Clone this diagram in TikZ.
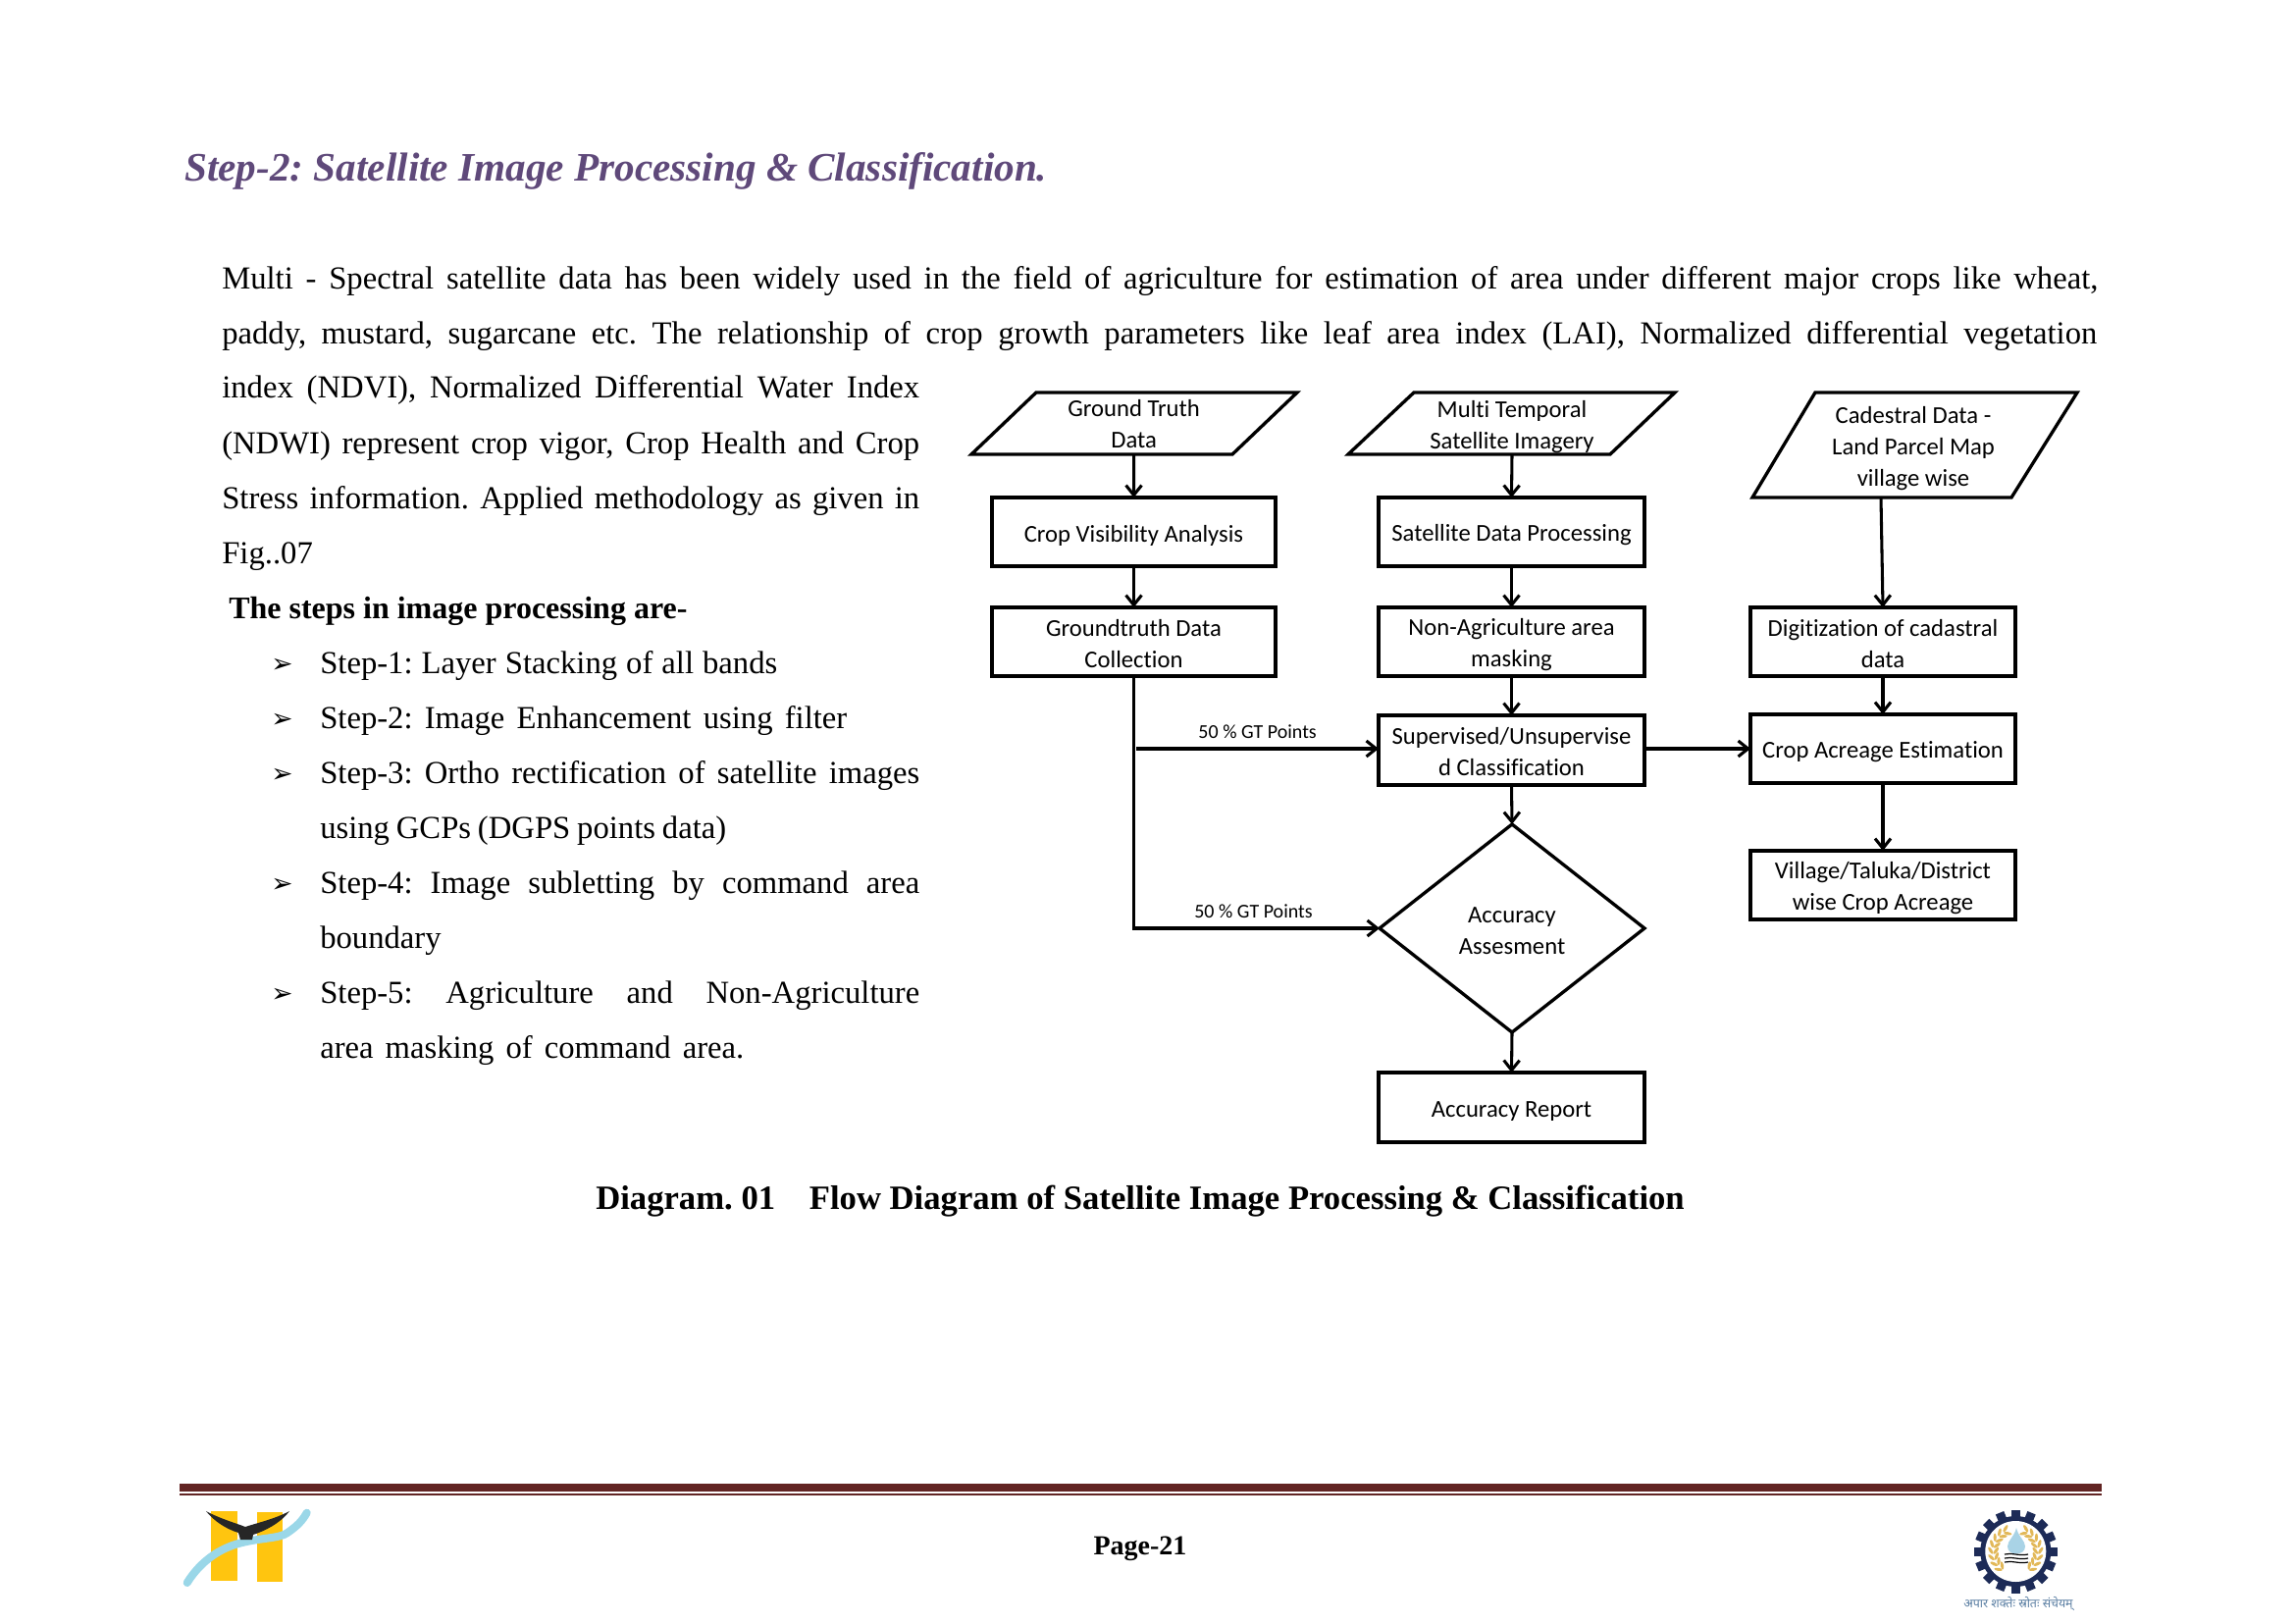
\documentclass[tikz,border=0pt]{standalone}
\usepackage{fontspec}
\usetikzlibrary{arrows.meta,shapes.geometric}
\setmainfont{Liberation Serif}
\frenchspacing
\newfontfamily\calfont[Ligatures=NoCommon]{Carlito}
\newfontfamily\dvfont{DejaVu Sans}
\newfontfamily\devafont[Script=Devanagari]{Noto Sans}
\definecolor{titlepurple}{HTML}{5F497A}
\definecolor{rulered}{HTML}{622423}
\definecolor{gearblue}{HTML}{1D2B57}
\definecolor{gold}{HTML}{E2B858}
\definecolor{swoosh}{HTML}{9AD7E8}
\definecolor{hyellow}{HTML}{FFC50F}
\definecolor{dropblue}{HTML}{A9D3E6}
\definecolor{mottoblue}{HTML}{5B7FA3}
\tikzset{
  x=.75pt,y=-.75pt,
  flowbox/.style={draw,line width=2.5pt,outer sep=0pt,inner sep=0pt,align=center,font=\calfont\fontsize{18.5}{24}\selectfont},
  flowtext/.style={align=center,inner sep=0pt,font=\calfont\fontsize{18.5}{24}\selectfont},
  para/.style={draw,line width=2.5pt,line join=miter},
  smalllab/.style={inner sep=0pt,font=\calfont\fontsize{15}{18}\selectfont},
  conn/.style={line width=2.3pt,-{Straight Barb[length=7.5pt,width=12pt,line width=2.3pt]}},
  body/.style={anchor=base west,inner sep=0pt,font=\fontsize{24.5}{30}\selectfont},
  bul/.style={anchor=base west,inner sep=0pt,font=\dvfont\fontsize{20}{24}\selectfont},
}
\def\rl{18pt}
\newcommand\flbox[6]{%
  \pgfmathsetmacro\bw{(#4-#2)*.75}\pgfmathsetmacro\bh{(#5-#3)*.75}%
  \node[flowbox,minimum width=\bw pt,minimum height=\bh pt] (#1) at ({(#2+#4)/2},{(#3+#5)/2}) {\rule{0pt}{\rl}#6};}
\newcommand\jl[5]{% name x baseline width text
  \pgfmathsetmacro\jw{#4*.75}%
  \node[body] (#1) at (#2,#3) {\makebox[\jw pt][s]{#5}};}
\begin{document}
\begin{tikzpicture}
\useasboundingbox (0,0) rectangle (2339,1655);
\fill[white] (0,0) rectangle (2339,1655);
% heading
\node[anchor=base west,inner sep=0pt,text=titlepurple,font=\bfseries\itshape\fontsize{30.9}{36}\selectfont] (title) at (188,185)
  {Step-2: Satellite Image Processing \& Classification.};
% body
\jl{l1}{226}{295}{1912}{Multi - Spectral satellite data has been widely used in the field of agriculture for estimation of area under different major crops like wheat,}
\jl{l2}{226}{351}{1911}{paddy, mustard, sugarcane etc. The relationship of crop growth parameters like leaf area index (LAI), Normalized differential vegetation}
\jl{l3}{226}{406}{711}{index (NDVI), Normalized Differential Water Index}
\jl{l4}{226}{462}{711}{(NDWI) represent crop vigor, Crop Health and Crop}
\jl{l5}{226}{518}{711}{Stress information. Applied methodology as given in}
\node[body] (l6) at (226,574) {Fig..07};
\node[body,font=\bfseries\fontsize{24}{30}\selectfont] (l7) at (233,630) {The steps in image processing are-};
\jl{s1}{326}{686}{466}{Step-1: Layer Stacking of all bands}
\jl{s2}{326}{742}{537}{Step-2: Image Enhancement using filter}
\jl{s3}{326}{798}{611}{Step-3: Ortho rectification of satellite images}
\jl{s3b}{326}{854}{414}{using GCPs (DGPS points data)}
\jl{s4}{326}{910}{611}{Step-4: Image subletting by command area}
\node[body] (s4b) at (326,966) {boundary};
\jl{s5}{326}{1022}{611}{Step-5: Agriculture and Non-Agriculture}
\jl{s5b}{326}{1078}{432}{area masking of command area.}
\node[bul] (b1) at (276,685) {➢};
\node[bul] (b2) at (276,741) {➢};
\node[bul] (b3) at (276,797) {➢};
\node[bul] (b4) at (276,909) {➢};
\node[bul] (b5) at (276,1021) {➢};
% flow: parallelograms
\draw[para] (1056,400) -- (1322,400) -- (1256,463) -- (990,463) -- cycle;
\draw[para] (1441,400) -- (1707,400) -- (1641,463) -- (1374,463) -- cycle;
\draw[para] (1850,400) -- (2117,400) -- (2050,507) -- (1786,507) -- cycle;
\coordinate (p1b) at (1155.6,463);
\coordinate (p2b) at (1541,463);
\coordinate (p3b) at (1917,507);
\node[flowtext] (p1t) at (1155.6,432) {Ground Truth\\Data};
\node[flowtext] (p2t) at (1541,435) {Multi Temporal\\Satellite Imagery};
\node[flowtext] (p3t) at (1950,457) {Cadestral Data -\\Land Parcel Map\\village wise};
% boxes
\flbox{crop}{1011}{507}{1300}{577}{Crop Visibility Analysis}
\flbox{sat}{1405}{507}{1676}{577}{Satellite Data Processing}
\flbox{nonag}{1405}{619}{1676}{689}{Non-Agriculture area\\masking}
\flbox{rep}{1405}{1093}{1676}{1164}{Accuracy Report}
\flbox{acr}{1784}{728}{2054}{798}{Crop Acreage Estimation}
\flbox{vil}{1784}{867}{2054}{937}{Village/Taluka/District\\wise Crop Acreage}
\def\rl{15.5pt}
\flbox{gt}{1011}{619}{1300}{689}{Groundtruth Data\\Collection}
\flbox{dig}{1784}{619}{2054}{689}{Digitization of cadastral\\data}
\def\rl{14.5pt}
\flbox{sup}{1405}{729}{1676}{800}{Supervised/Unsupervise\\d Classification}
\node[flowbox,diamond,aspect=1.27,minimum width=202.5pt,minimum height=159pt] (acc) at (1541,946) {\rule{0pt}{16pt}Accuracy\\Assesment};
% connectors
\draw[conn] (p1b) -- (crop.north);
\draw[conn] (crop.south) -- (gt.north);
\draw[conn] (p2b) -- (sat.north);
\draw[conn] (sat.south) -- (nonag.north);
\draw[conn] (nonag.south) -- (sup.north);
\draw[conn] (sup.south) -- (acc.north);
\draw[conn] (acc.south) -- (rep.north);
\coordinate (br) at (1158,763);
\draw[conn] (gt.south) |- (acc.west);
\draw[conn] (br) -- (sup.west |- br);
\draw[conn] (sup.east |- acr.west) -- (acr.west);
\draw[conn] (p3b) -- (dig.north);
\draw[conn] (dig.south) -- (acr.north);
\draw[conn] (acr.south) -- (vil.north);
\node[smalllab] (lab1) at (1281.6,746) {50 \% GT Points};
\node[smalllab] (lab2) at (1277.5,929) {50 \% GT Points};
% caption
\node[anchor=base,inner sep=0pt,font=\bfseries\fontsize{26}{30}\selectfont] (cap) at (1162,1232) {Diagram. 01\hspace{1em}Flow Diagram of Satellite Image Processing \& Classification};
% footer rules
\fill[rulered] (183,1512) rectangle (2142,1520);
\fill[rulered] (183,1522) rectangle (2142,1524);
\node[anchor=base,inner sep=0pt,font=\bfseries\fontsize{21}{26}\selectfont] (page) at (1162,1584) {Page-21};
% left logo
\fill[hyellow] (215,1540) rectangle (242.3,1610.7);
\fill[hyellow] (262,1541) rectangle (288,1612);
\draw[swoosh,line width=6pt,line cap=round] (190.7,1613) .. controls (205,1590) and (225,1578) .. (243,1573) .. controls (265,1567) and (285,1568) .. (293,1562) .. controls (303,1555) and (308,1550) .. (312.7,1541.7);
\fill[black!85] (210,1540) .. controls (225,1548) and (240,1552) .. (250,1556) .. controls (262,1552) and (280,1548) .. (295,1540) .. controls (285,1553) and (270,1560) .. (258,1564) -- (257,1569) -- (245,1569) -- (243,1562) .. controls (230,1558) and (218,1550) .. (210,1540) -- cycle;
% right logo
\foreach \a in {0,22.5,...,337.5}
  \fill[gearblue,rotate around={\a:(2054.3,1581)}] (2049.8,1538.5) rectangle (2058.8,1550);
\fill[gearblue] (2054.3,1581) circle[radius=36];
\fill[white] (2054.3,1581) circle[radius=31];
\foreach \a in {24,40,...,150}{
  \fill[gold,rotate around={\a:(2054.3,1581)}] (2054.3,1555.5) ellipse[x radius=4.2,y radius=1.6,rotate=35];
  \fill[gold,rotate around={\a:(2054.3,1581)}] (2054.3,1561) ellipse[x radius=4.2,y radius=1.6,rotate=-35];
  \fill[gold,rotate around={-\a:(2054.3,1581)}] (2054.3,1555.5) ellipse[x radius=4.2,y radius=1.6,rotate=-35];
  \fill[gold,rotate around={-\a:(2054.3,1581)}] (2054.3,1561) ellipse[x radius=4.2,y radius=1.6,rotate=35];
}
\fill[dropblue] (2055,1557) .. controls (2053,1566) and (2046,1570) .. (2046,1576) .. controls (2046,1586) and (2064,1586) .. (2064,1576) .. controls (2064,1570) and (2057,1566) .. (2055,1557) -- cycle;
\foreach \y in {1584,1588,1592}
  \draw[black,line width=.9pt] (2043,\y) .. controls (2050,{\y-2}) and (2058,{\y+2}) .. (2067,\y);
\node[anchor=base,inner sep=0pt,text=mottoblue,font=\devafont\fontsize{9.3}{10}\selectfont] (motto) at (2057,1638) {अपार शक्तेः स्रोतः संचेयम्};
\end{tikzpicture}
\end{document}
